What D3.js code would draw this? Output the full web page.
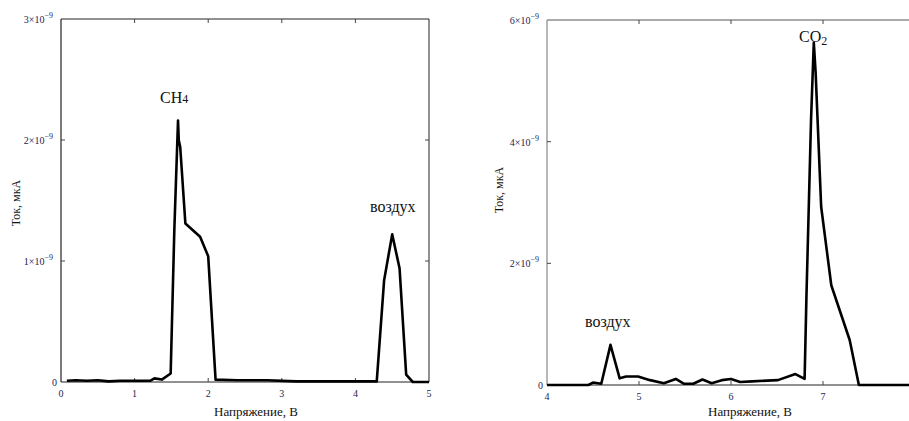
<!DOCTYPE html>
<html>
<head>
<meta charset="utf-8">
<script src="https://cdn.jsdelivr.net/npm/d3@7"></script>
<style>
  body { margin: 0; background: #fff; }
</style>
</head>
<body>
<svg id="chart" width="909" height="421" font-family="'Liberation Serif', 'Times New Roman', 'DejaVu Serif', serif"></svg>
<script>
// left panel: CH4 + air (values in units of 1e-9)
var leftV = [0.08, 0.2, 0.35, 0.5, 0.65, 0.8, 1.0, 1.21, 1.27, 1.37, 1.49, 1.54, 1.59, 1.6, 1.62, 1.69, 1.89, 2.0, 2.1, 2.4, 2.8, 3.2, 3.6, 4.0, 4.29, 4.39, 4.5, 4.6, 4.69, 4.78, 5.0];
var leftI = [0.01, 0.015, 0.01, 0.015, 0.005, 0.01, 0.01, 0.01, 0.03, 0.02, 0.07, 1.26, 2.16, 2.0, 1.94, 1.31, 1.2, 1.04, 0.02, 0.015, 0.015, 0.005, 0.005, 0.005, 0.005, 0.84, 1.22, 0.94, 0.06, 0.0, 0.0];
var leftXTicks = [0, 1, 2, 3, 4, 5];
var leftYTicks = [0, 1, 2, 3];

// right panel: air + CO2
var rightV = [4.0, 4.45, 4.5, 4.59, 4.69, 4.79, 4.86, 4.99, 5.12, 5.27, 5.4, 5.49, 5.59, 5.69, 5.79, 5.9, 6.0, 6.1, 6.23, 6.51, 6.7, 6.8, 6.82, 6.87, 6.9, 6.92, 6.98, 7.09, 7.29, 7.39, 8.0];
var rightI = [0.0, 0.0, 0.04, 0.02, 0.66, 0.11, 0.14, 0.14, 0.08, 0.03, 0.1, 0.02, 0.02, 0.09, 0.03, 0.08, 0.1, 0.05, 0.06, 0.08, 0.18, 0.1, 1.45, 4.36, 5.63, 5.13, 2.93, 1.64, 0.74, 0.0, 0.0];
var rightXTicks = [4, 5, 6, 7];
var rightYTicks = [0, 2, 4, 6];

var svg = d3.select("#chart");
var tickColor = "#1c2450";

function yLabelText(sel, d) {
  if (d === 0) { sel.text("0"); return; }
  sel.append("tspan").text(d + "\u00d710");
  sel.append("tspan").attr("dy", -5).attr("font-size", 8).text("\u22129");
}

function panel(opt) {
  var x = d3.scaleLinear().domain(opt.xDomain).range([opt.left, opt.right]);
  var y = d3.scaleLinear().domain(opt.yDomain).range([opt.bottom, opt.top]);
  var g = svg.append("g");

  // frame
  g.append("line").attr("x1", opt.left).attr("x2", opt.frameRight).attr("y1", opt.bottom).attr("y2", opt.bottom)
    .attr("stroke", "#222").attr("stroke-width", 1);
  g.append("line").attr("x1", opt.left).attr("x2", opt.frameRight).attr("y1", opt.top).attr("y2", opt.top)
    .attr("stroke", opt.topColor).attr("stroke-width", 1);
  g.append("line").attr("x1", opt.left).attr("x2", opt.left).attr("y1", opt.top).attr("y2", opt.bottom)
    .attr("stroke", opt.leftColor).attr("stroke-width", 1.2);
  if (opt.rightBorder) {
    g.append("line").attr("x1", opt.right).attr("x2", opt.right).attr("y1", opt.top).attr("y2", opt.bottom)
      .attr("stroke", "#222").attr("stroke-width", 1);
  }

  // inward ticks
  opt.xTicks.forEach(function(t) {
    if (t === opt.xDomain[0] || t === opt.xDomain[1]) return;
    g.append("line").attr("x1", x(t)).attr("x2", x(t)).attr("y1", opt.bottom).attr("y2", opt.bottom - 4).attr("stroke", "#444");
    g.append("line").attr("x1", x(t)).attr("x2", x(t)).attr("y1", opt.top).attr("y2", opt.top + 4).attr("stroke", "#444");
  });
  opt.yTicks.forEach(function(t) {
    if (t === opt.yDomain[0] || t === opt.yDomain[1]) return;
    g.append("line").attr("x1", opt.left).attr("x2", opt.left + 4).attr("y1", y(t)).attr("y2", y(t)).attr("stroke", "#444");
    if (opt.rightBorder) {
      g.append("line").attr("x1", opt.right).attr("x2", opt.right - 4).attr("y1", y(t)).attr("y2", y(t)).attr("stroke", "#444");
    }
  });

  // tick labels
  g.selectAll(".xt").data(opt.xTicks).enter().append("text")
    .attr("x", function(d) { return x(d); })
    .attr("y", opt.bottom + 15)
    .attr("text-anchor", "middle")
    .attr("font-size", 10)
    .attr("fill", tickColor)
    .text(function(d) { return d; });
  g.selectAll(".yt").data(opt.yTicks).enter().append("text")
    .attr("x", function(d) { return d === 0 ? opt.left - 4 : opt.left - 8; })
    .attr("y", function(d) { return y(d) + 4; })
    .attr("text-anchor", "end")
    .attr("font-size", 10)
    .attr("fill", tickColor)
    .each(function(d) { yLabelText(d3.select(this), d); });

  // axis titles
  g.append("text").attr("x", opt.xTitleX).attr("y", 416).attr("text-anchor", "middle")
    .attr("font-size", 13).attr("fill", "#111").text("Напряжение, В");
  g.append("text").attr("transform", "translate(" + opt.yTitleX + "," + opt.yTitleY + ") rotate(-90)")
    .attr("text-anchor", "middle").attr("font-size", 12).attr("fill", "#111").text("Ток, мкА");

  // data line
  var pts = opt.v.map(function(v, i) { return [v, opt.i[i]]; });
  g.append("path").datum(pts)
    .attr("fill", "none").attr("stroke", "#000").attr("stroke-width", 2.6).attr("stroke-linejoin", "round")
    .attr("d", d3.line().x(function(d) { return x(d[0]); }).y(function(d) { return y(d[1]); }));

  return { x: x, y: y, g: g };
}

var L = panel({
  v: leftV, i: leftI, xTicks: leftXTicks, yTicks: leftYTicks,
  xDomain: [0, 5], yDomain: [0, 3],
  left: 61, right: 429, frameRight: 429, top: 19, bottom: 382,
  rightBorder: true, leftColor: "#222", topColor: "#222",
  xTitleX: 256, yTitleX: 20, yTitleY: 203
});

var R = panel({
  v: rightV, i: rightI, xTicks: rightXTicks, yTicks: rightYTicks,
  xDomain: [4, 8], yDomain: [0, 6],
  left: 547, right: 915, frameRight: 909, top: 20, bottom: 385,
  rightBorder: false, leftColor: "#888", topColor: "#555",
  xTitleX: 750, yTitleX: 503, yTitleY: 190
});

// peak annotations
function chem(g, x, y, main, sub, dy) {
  var t = g.append("text").attr("x", x).attr("y", y).attr("font-size", 16).attr("fill", "#111");
  t.append("tspan").text(main);
  t.append("tspan").attr("font-size", 12).attr("dy", dy).text(sub);
}
chem(L.g, 160, 103, "CH", "4", 0);
L.g.append("text").attr("x", 370).attr("y", 212).attr("font-size", 16).attr("fill", "#111").text("воздух");
chem(R.g, 799, 42, "CO", "2", 3);
R.g.append("text").attr("x", 585).attr("y", 327).attr("font-size", 16).attr("fill", "#111").text("воздух");
</script>
</body>
</html>
